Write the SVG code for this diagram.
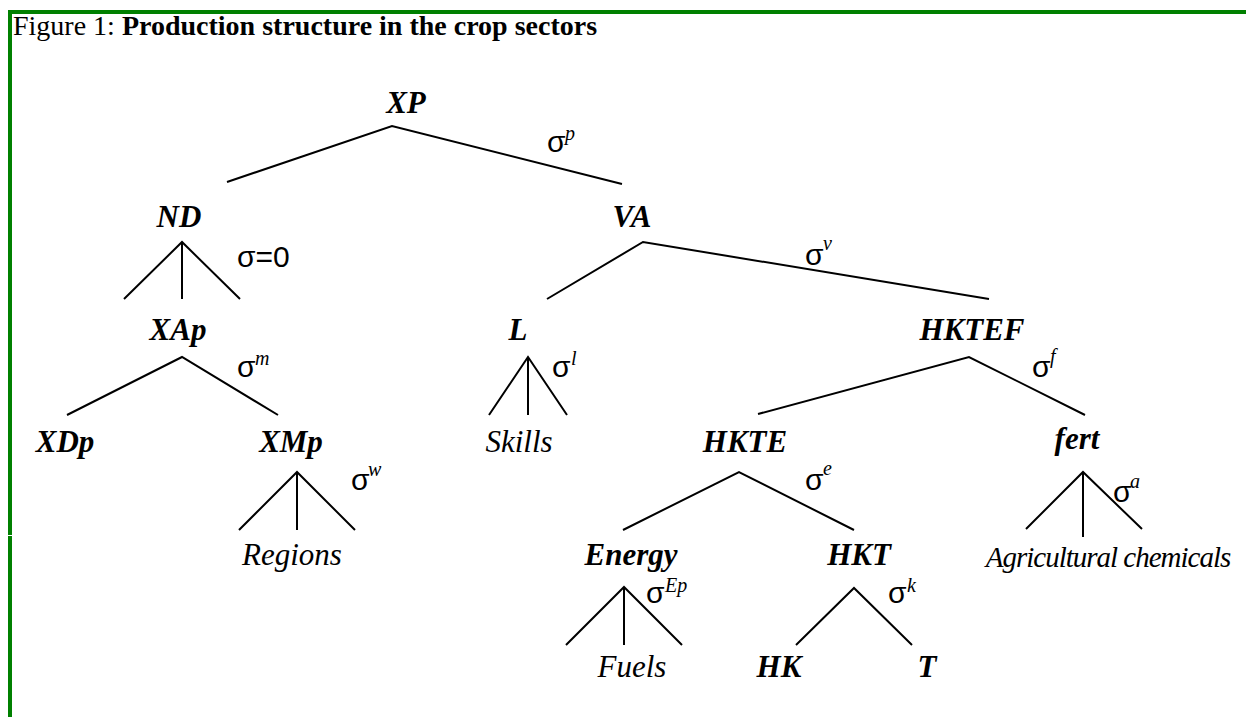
<svg xmlns="http://www.w3.org/2000/svg" width="1246" height="717" viewBox="0 0 1246 717">
<style>
.lbl{font-family:"Liberation Serif","Times New Roman",serif;font-weight:bold;font-style:italic;font-size:31px;text-anchor:middle;fill:#000}
.it{font-family:"Liberation Serif","Times New Roman",serif;font-style:italic;font-size:31px;text-anchor:middle;fill:#000}
.it.small{font-size:29px;letter-spacing:-1px}
.sig{font-family:"Liberation Sans",Arial,sans-serif;font-size:30px;fill:#000}
.sup{font-family:"Liberation Serif","Times New Roman",serif;font-style:italic;font-size:20px;fill:#000}
.title{font-family:"Liberation Serif","Times New Roman",serif;font-size:28px;fill:#000}
.edge{stroke:#000;stroke-width:2;fill:none;stroke-linecap:butt}
</style>
<rect width="1246" height="717" fill="#fff"/>
<g id="frame" fill="#008000">
<rect x="8" y="10" width="1238" height="4"/>
<rect x="8" y="10" width="4" height="525"/>
<rect x="8" y="536" width="4" height="181"/>
</g>
<text id="title" class="title" x="13" y="35">Figure 1: <tspan font-weight="bold">Production structure in the crop sectors</tspan></text>
<g id="connectors" class="edge">
<polyline points="227,182 392,126 622,184"/>
<polyline points="124,299 182,242 240,299"/><line x1="182" y1="242" x2="182" y2="299"/>
<polyline points="547,299 643,242 989,299"/>
<polyline points="67,415 182,357 278,415"/>
<polyline points="489,415 528,357 567,415"/><line x1="528" y1="357" x2="528" y2="415"/>
<polyline points="758,414 969,357 1085,415"/>
<polyline points="239,530 297,472 355,530"/><line x1="297" y1="472" x2="297" y2="530"/>
<polyline points="623,530 739,472 854,530"/>
<polyline points="1026,529 1083,472 1142,529"/><line x1="1083" y1="472" x2="1083" y2="537"/>
<polyline points="566,645 624,587 682,645"/><line x1="624" y1="587" x2="624" y2="645"/>
<polyline points="796,645 854,588 912,645"/>
</g>
<g id="XP"><text class="lbl" x="406" y="113">XP</text><text class="sig" x="547" y="152">σ</text><text class="sup" x="565" y="140">p</text></g>
<g id="ND"><text class="lbl" x="179" y="227">ND</text><text class="sig" x="237" y="267">σ=0</text></g>
<g id="VA"><text class="lbl" x="632" y="227">VA</text><text class="sig" x="805" y="265">σ</text><text class="sup" x="823" y="250">v</text></g>
<g id="XAp"><text class="lbl" x="178" y="340">XAp</text><text class="sig" x="237" y="377">σ</text><text class="sup" x="255" y="365">m</text></g>
<g id="L"><text class="lbl" x="518" y="340">L</text><text class="sig" x="552" y="377">σ</text><text class="sup" x="571" y="365">l</text></g>
<g id="HKTEF"><text class="lbl" x="972" y="340">HKTEF</text><text class="sig" x="1032" y="377">σ</text><text class="sup" x="1050" y="363">f</text></g>
<g id="XDp"><text class="lbl" x="65" y="452">XDp</text></g>
<g id="XMp"><text class="lbl" x="291" y="452">XMp</text><text class="sig" x="351" y="490">σ</text><text class="sup" x="368" y="476">w</text></g>
<g id="Skills"><text class="it" x="519" y="452">Skills</text></g>
<g id="HKTE"><text class="lbl" x="745" y="452">HKTE</text><text class="sig" x="805" y="490">σ</text><text class="sup" x="823" y="475">e</text></g>
<g id="fert"><text class="lbl" x="1077" y="449">fert</text><text class="sig" x="1113" y="502">σ</text><text class="sup" x="1130" y="488">a</text></g>
<g id="Regions"><text class="it" x="292" y="565">Regions</text></g>
<g id="Energy"><text class="lbl" x="631" y="565">Energy</text><text class="sig" x="646" y="603">σ</text><text class="sup" x="665" y="592">Ep</text></g>
<g id="HKT"><text class="lbl" x="859" y="565">HKT</text><text class="sig" x="888" y="603">σ</text><text class="sup" x="907" y="592">k</text></g>
<g id="AgChem"><text class="it small" x="1108" y="567">Agricultural chemicals</text></g>
<g id="Fuels"><text class="it" x="632" y="677">Fuels</text></g>
<g id="HK"><text class="lbl" x="779" y="677">HK</text></g>
<g id="T"><text class="lbl" x="927" y="677">T</text></g>
</svg>
